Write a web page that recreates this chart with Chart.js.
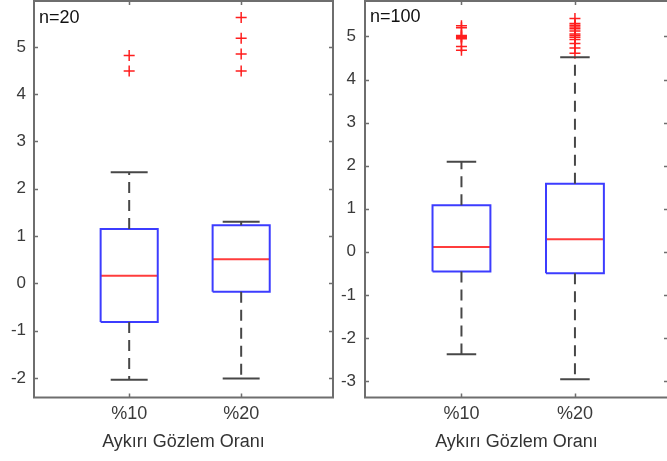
<!DOCTYPE html>
<html><head><meta charset="utf-8">
<script src="https://cdn.jsdelivr.net/npm/chart.js@4.4.0/dist/chart.umd.min.js"></script>
<style>
html,body{margin:0;padding:0;background:#fff;overflow:hidden;width:667px;height:461px}
.wrap{position:absolute;top:0;height:461px;width:340px}
#w1{left:0}
#w2{left:335px}
.nlab{position:absolute;font-family:"Liberation Sans",Arial,sans-serif;font-size:18px;color:#111;line-height:18px;white-space:nowrap}
</style></head><body>
<div class="wrap" id="w1"><canvas id="c1"></canvas></div>
<div class="wrap" id="w2"><canvas id="c2"></canvas></div>
<div class="nlab" style="left:39px;top:8px">n=20</div>
<div class="nlab" style="left:370px;top:7px">n=100</div>
<script>
const categories = ['%10', '%20'];
const xTitle = 'Aykırı Gözlem Oranı';
const yTicks20 = [-2, -1, 0, 1, 2, 3, 4, 5];
const yTicks100 = [-3, -2, -1, 0, 1, 2, 3, 4, 5];

// panel n=20
const q1_20 = [-0.82, -0.18];
const median_20 = [0.16, 0.51];
const q3_20 = [1.15, 1.23];
const whiskerLow_20 = [-2.04, -2.01];
const whiskerHigh_20 = [2.35, 1.30];
const outliers_20 = [
  [4.82, 4.49],
  [5.62, 5.18, 4.85, 4.49]
];

// panel n=100
const q1_100 = [-0.46, -0.50];
const median_100 = [0.11, 0.29];
const q3_100 = [1.08, 1.58];
const whiskerLow_100 = [-2.38, -2.96];
const whiskerHigh_100 = [2.09, 4.52];
const outliers_100 = [
  [5.25, 5.2, 5.02, 5.0, 4.98, 4.95, 4.77, 4.68],
  [5.42, 5.3, 5.26, 5.22, 5.18, 5.13, 5.06, 5.02, 4.98, 4.93, 4.84, 4.73, 4.61]
];

const BOX_BLUE = 'rgb(60,60,255)';
const MED_RED = 'rgb(255,60,60)';
const WHISK = '#474747';
const FRAME = '#6e6e6e';
const TEXT = '#3a3a3a';
const FONT = '"Liberation Sans", Arial, sans-serif';
const AREA_TOP = 1;

function buildDatasets(q1, med, q3, wl, wh, outs, boxHalf, capHalf) {
  const ds = [];
  const line = (data, color, width, dash) => ({
    type: 'scatter', data, showLine: true, borderColor: color, borderWidth: width,
    borderDash: dash || [], pointRadius: 0, fill: false, tension: 0
  });
  categories.forEach((c, i) => {
    const x = i + 1;
    ds.push(line([{x, y: q3[i]}, {x, y: wh[i]}], WHISK, 2, [11, 7]));
    ds.push(line([{x, y: q1[i]}, {x, y: wl[i]}], WHISK, 2, [11, 7]));
    ds.push(line([{x: x - capHalf, y: wh[i]}, {x: x + capHalf, y: wh[i]}], WHISK, 2));
    ds.push(line([{x: x - capHalf, y: wl[i]}, {x: x + capHalf, y: wl[i]}], WHISK, 2));
    ds.push(line([
      {x: x - boxHalf, y: q1[i]}, {x: x - boxHalf, y: q3[i]},
      {x: x + boxHalf, y: q3[i]}, {x: x + boxHalf, y: q1[i]},
      {x: x - boxHalf, y: q1[i]}
    ], BOX_BLUE, 2));
    ds.push(line([{x: x - boxHalf, y: med[i]}, {x: x + boxHalf, y: med[i]}], MED_RED, 2));
    ds.push({
      type: 'scatter', data: outs[i].map(v => ({x, y: v})), showLine: false,
      pointStyle: 'cross', pointRadius: 5.5, borderColor: 'rgb(255,30,30)',
      backgroundColor: 'rgb(255,30,30)', pointBorderWidth: 1.5
    });
  });
  return ds;
}

const framePlugin = {
  id: 'frame',
  afterLayout(chart) {
    const a = chart.chartArea, y = chart.scales.y;
    a.top = AREA_TOP; a.height = a.bottom - AREA_TOP;
    y.top = AREA_TOP; y.height = y.bottom - AREA_TOP;
    y.configure();
  },
  afterDatasetsDraw(chart) {
    const {ctx, chartArea: a, scales: {x, y}} = chart;
    ctx.save();
    ctx.strokeStyle = FRAME;
    ctx.lineWidth = 1.5;
    ctx.beginPath();
    y.ticks.forEach(t => {
      const py = Math.round(y.getPixelForValue(t.value)) + 0.5;
      ctx.moveTo(a.left, py); ctx.lineTo(a.left + 4, py);
      ctx.moveTo(a.right, py); ctx.lineTo(a.right - 4, py);
    });
    x.ticks.forEach(t => {
      const px = Math.round(x.getPixelForValue(t.value)) + 0.5;
      ctx.moveTo(px, a.top); ctx.lineTo(px, a.top + 4);
      ctx.moveTo(px, a.bottom); ctx.lineTo(px, a.bottom - 4);
    });
    ctx.stroke();
    ctx.lineWidth = 2;
    ctx.strokeRect(a.left, a.top, a.right - a.left, a.bottom - a.top);
    ctx.restore();
  }
};

function noPad(s) { s.paddingTop = 0; s.paddingBottom = 0; s.paddingLeft = 0; s.paddingRight = 0; }

function makeChart(id, datasets, yMin, yMax, yTicks, yAxisWidth, padRight, yPad) {
  return new Chart(document.getElementById(id), {
    data: {datasets},
    plugins: [framePlugin],
    options: {
      responsive: true, maintainAspectRatio: false, animation: false, events: [],
      layout: {padding: {top: 1, right: padRight, bottom: 0, left: 0}},
      plugins: {legend: {display: false}, tooltip: {enabled: false}},
      scales: {
        x: {
          type: 'linear', position: 'bottom', min: 0.15, max: 2.82,
          afterBuildTicks: s => { s.ticks = categories.map((c, i) => ({value: i + 1})); },
          afterFit: s => { s.height = 63.5; noPad(s); },
          grid: {display: false, drawTicks: false}, border: {display: false},
          ticks: {
            callback: v => categories[v - 1], autoSkip: false, maxRotation: 0,
            font: {family: FONT, size: 18}, color: TEXT, padding: 6
          },
          title: {
            display: true, text: xTitle, color: '#333',
            font: {family: FONT, size: 18}, padding: {top: 0, bottom: 8}
          }
        },
        y: {
          type: 'linear', min: yMin, max: yMax,
          afterBuildTicks: s => { s.ticks = yTicks.map(v => ({value: v})); },
          afterFit: s => { s.width = yAxisWidth; noPad(s); },
          grid: {display: false, drawTicks: false}, border: {display: false},
          ticks: {font: {family: FONT, size: 17}, color: TEXT, padding: yPad}
        }
      }
    }
  });
}

makeChart('c1',
  buildDatasets(q1_20, median_20, q3_20, whiskerLow_20, whiskerHigh_20, outliers_20, 0.255, 0.165),
  -2.414, 5.97, yTicks20, 34, 6, 8);
makeChart('c2',
  buildDatasets(q1_100, median_100, q3_100, whiskerLow_100, whiskerHigh_100, outliers_100, 0.255, 0.13),
  -3.383, 5.824, yTicks100, 30, 2, 9);
</script>
</body></html>
